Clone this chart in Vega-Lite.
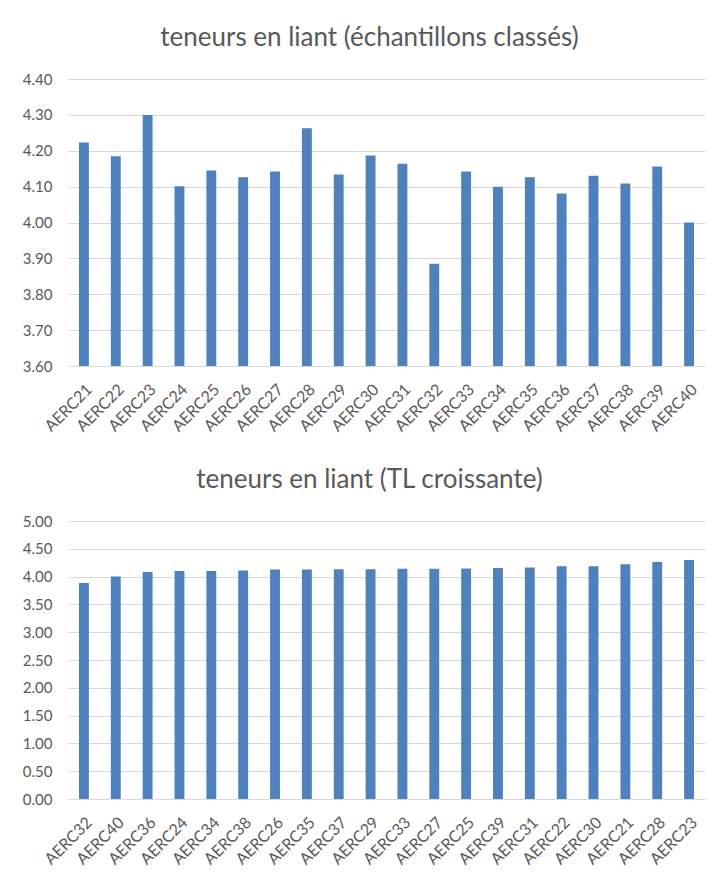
{
  "$schema": "https://vega.github.io/schema/vega-lite/v6.json",
  "background": "white",
  "padding": {"left": 22, "top": 25, "right": 10, "bottom": 5},
  "datasets": {
    "teneurs": [
      {"echantillon": "AERC21", "teneur": 4.223},
      {"echantillon": "AERC22", "teneur": 4.185},
      {"echantillon": "AERC23", "teneur": 4.300},
      {"echantillon": "AERC24", "teneur": 4.101},
      {"echantillon": "AERC25", "teneur": 4.145},
      {"echantillon": "AERC26", "teneur": 4.126},
      {"echantillon": "AERC27", "teneur": 4.142},
      {"echantillon": "AERC28", "teneur": 4.263},
      {"echantillon": "AERC29", "teneur": 4.134},
      {"echantillon": "AERC30", "teneur": 4.187},
      {"echantillon": "AERC31", "teneur": 4.164},
      {"echantillon": "AERC32", "teneur": 3.885},
      {"echantillon": "AERC33", "teneur": 4.142},
      {"echantillon": "AERC34", "teneur": 4.100},
      {"echantillon": "AERC35", "teneur": 4.126},
      {"echantillon": "AERC36", "teneur": 4.081},
      {"echantillon": "AERC37", "teneur": 4.130},
      {"echantillon": "AERC38", "teneur": 4.109},
      {"echantillon": "AERC39", "teneur": 4.156},
      {"echantillon": "AERC40", "teneur": 4.000}
    ]
  },
  "config": {
    "font": "Lato",
    "view": {"stroke": null},
    "axis": {
      "labelFont": "Lato",
      "labelFontSize": 15,
      "labelColor": "#595959",
      "ticks": false,
      "title": null,
      "gridColor": "#d9d9d9",
      "domainColor": "#d9d9d9"
    },
    "axisX": {"labelFontSize": 16, "labelAngle": -45, "labelPadding": 15, "grid": false, "domain": true},
    "title": {
      "font": "Lato",
      "fontSize": 26,
      "fontWeight": "normal",
      "color": "#595959",
      "anchor": "middle",
      "offset": 21,
      "dx": -17
    },
    "concat": {"spacing": 32}
  },
  "vconcat": [
    {
      "title": "teneurs en liant (échantillons classés)",
      "width": 637,
      "height": 287,
      "data": {"name": "teneurs"},
      "mark": {"type": "bar", "color": "#4f81bd", "clip": true},
      "encoding": {
        "x": {
          "field": "echantillon",
          "type": "nominal",
          "sort": "ascending",
          "scale": {"paddingInner": 0.69, "paddingOuter": 0.345}
        },
        "y": {
          "field": "teneur",
          "type": "quantitative",
          "scale": {"domain": [3.6, 4.4], "nice": false, "zero": false},
          "axis": {
            "values": [3.6, 3.7, 3.8, 3.9, 4.0, 4.1, 4.2, 4.3, 4.4],
            "format": ".2f",
            "domain": false,
            "labelPadding": 16
          }
        }
      }
    },
    {
      "title": "teneurs en liant (TL croissante)",
      "width": 637,
      "height": 278,
      "data": {"name": "teneurs"},
      "mark": {"type": "bar", "color": "#4f81bd"},
      "encoding": {
        "x": {
          "field": "echantillon",
          "type": "nominal",
          "sort": ["AERC32", "AERC40", "AERC36", "AERC24", "AERC34", "AERC38", "AERC26", "AERC35", "AERC37", "AERC29", "AERC33", "AERC27", "AERC25", "AERC39", "AERC31", "AERC22", "AERC30", "AERC21", "AERC28", "AERC23"],
          "scale": {"paddingInner": 0.69, "paddingOuter": 0.345}
        },
        "y": {
          "field": "teneur",
          "type": "quantitative",
          "scale": {"domain": [0, 5], "nice": false},
          "axis": {
            "values": [0, 0.5, 1, 1.5, 2, 2.5, 3, 3.5, 4, 4.5, 5],
            "format": ".2f",
            "domain": false,
            "labelPadding": 16
          }
        }
      }
    }
  ]
}
